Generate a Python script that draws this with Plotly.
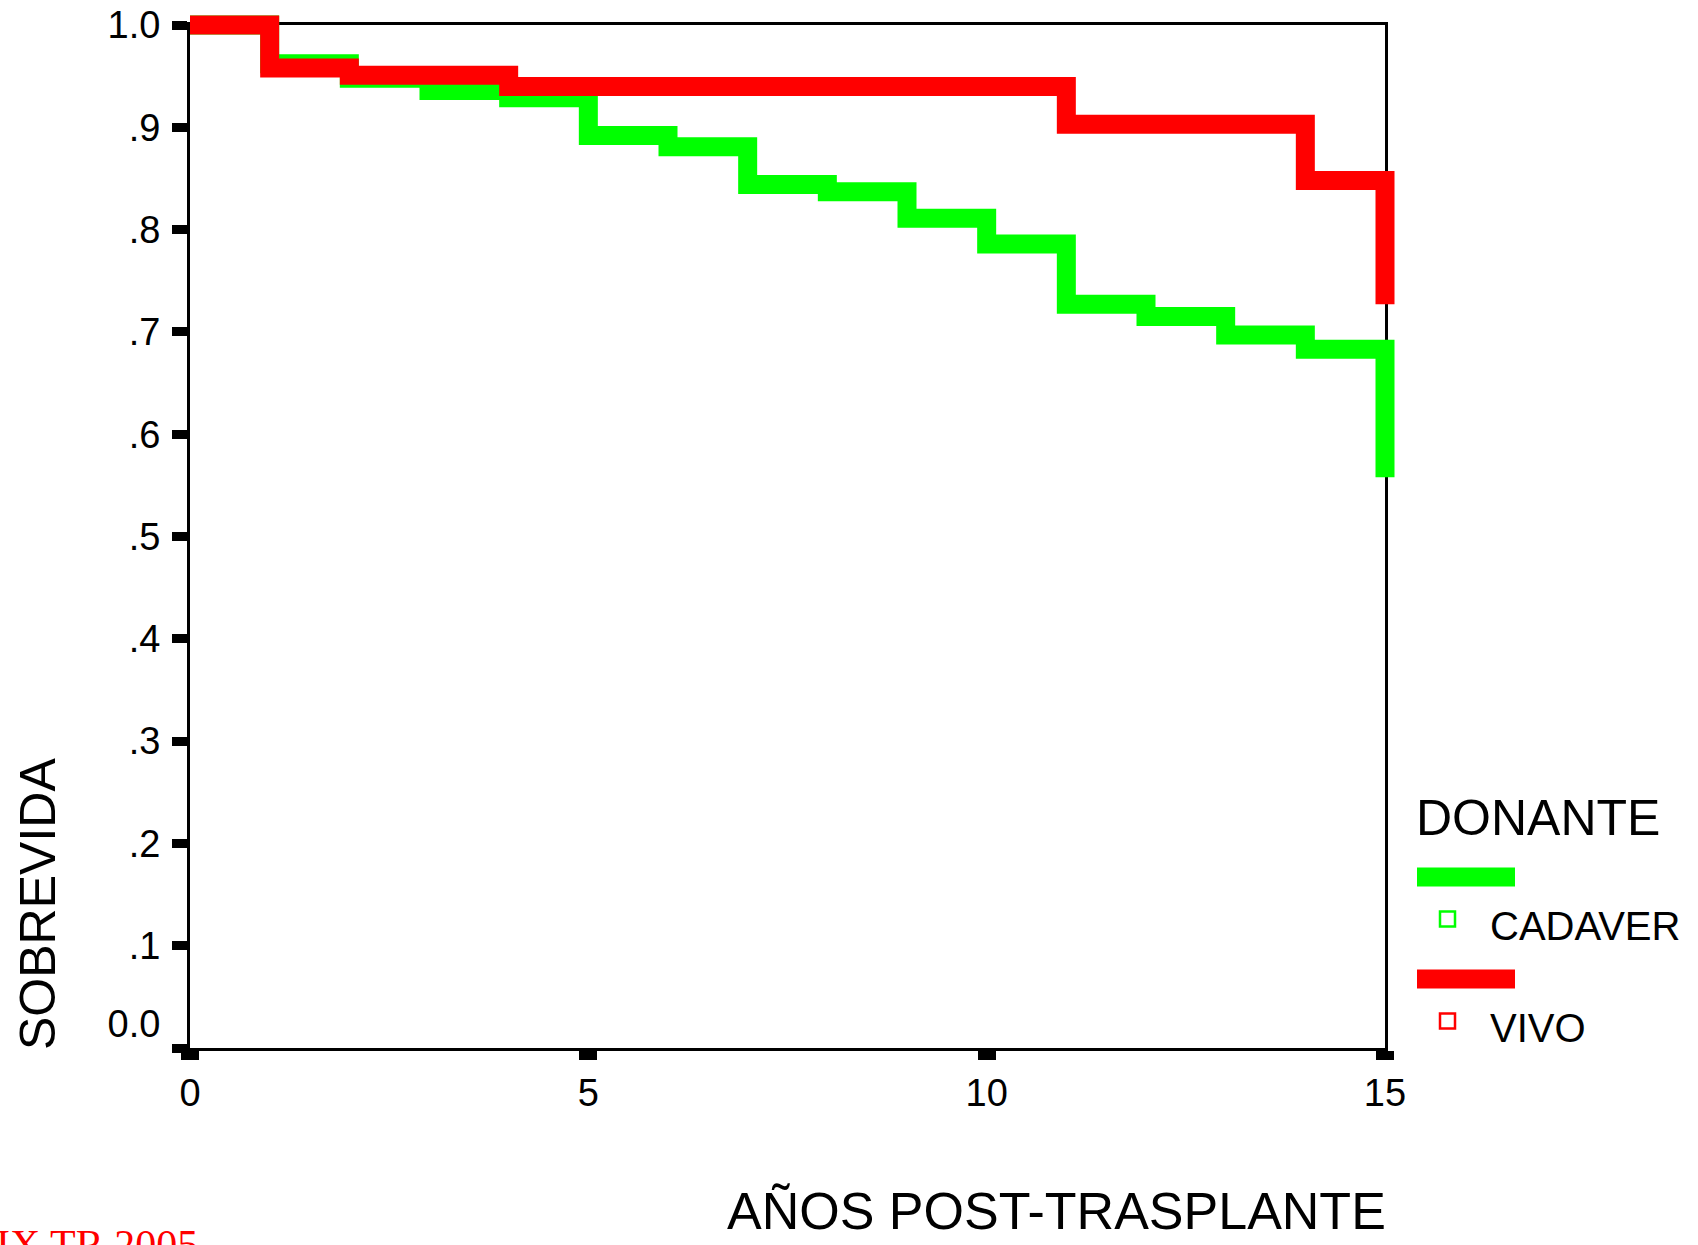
import plotly.graph_objects as go

# ---------------- data ----------------
series_names = ["CADAVER", "VIVO"]
years_cadaver = [0, 1, 2, 3, 4, 5, 6, 7, 8, 9, 10, 11, 12, 13, 14, 15]
surv_cadaver = [1.0, 0.962, 0.948, 0.936, 0.929, 0.892, 0.881, 0.844, 0.837,
                0.811, 0.786, 0.727, 0.715, 0.697, 0.683, 0.558]
years_vivo = [0, 1, 2, 4, 11, 14, 15]
surv_vivo = [1.0, 0.958, 0.951, 0.940, 0.903, 0.848, 0.727]

x_tick_vals = [0, 5, 10, 15]
x_tick_text = ["0", "5", "10", "15"]
y_tick_vals = [0.0, 0.1, 0.2, 0.3, 0.4, 0.5, 0.6, 0.7, 0.8, 0.9, 1.0]
y_tick_text = ["0.0<br> ", ".1", ".2", ".3", ".4", ".5", ".6", ".7", ".8", ".9", "1.0"]

legend_title = "DONANTE"
x_title = "AÑOS POST-TRASPLANTE"
y_title = "SOBREVIDA"
footer = "IX TR 2005"

# ---------------- geometry ----------------
W, H = 1698, 1245
GREEN, RED = "#00FF00", "#FF0000"
FONT = "Arial, Liberation Sans, sans-serif"

def px(x):
    return x / W

def py(y):
    return 1 - y / H

FX0, FX1 = 190, 1385   # frame left/right (x = 0 / 15)
FY1, FY0 = 25, 1048    # frame top/bottom (y = 1 / 0)
PAD = 24
XMIN, XMAX = x_tick_vals[0], x_tick_vals[-1]
YMIN, YMAX = y_tick_vals[0], y_tick_vals[-1]
sx = (FX1 - FX0) / (XMAX - XMIN)
sy = (FY0 - FY1) / (YMAX - YMIN)

fig = go.Figure()

# invisible trace to materialise the frame axes
fig.add_trace(go.Scatter(x=[XMIN, XMAX], y=[YMIN, YMAX], mode="markers",
                         marker=dict(opacity=0), hoverinfo="skip",
                         showlegend=False, xaxis="x", yaxis="y"))

fig.add_trace(go.Scatter(x=years_cadaver, y=surv_cadaver, mode="lines",
                         line=dict(color=GREEN, width=19, shape="hv"),
                         name=series_names[0], showlegend=False,
                         xaxis="x2", yaxis="y2"))
fig.add_trace(go.Scatter(x=years_vivo, y=surv_vivo, mode="lines",
                         line=dict(color=RED, width=19, shape="hv"),
                         name=series_names[1], showlegend=False,
                         xaxis="x2", yaxis="y2"))

axis_common = dict(showline=True, linecolor="black", linewidth=3, mirror=True,
                   showgrid=False, zeroline=False, ticks="outside", automargin=False,
                   tickcolor="black", tickfont=dict(family=FONT, size=38, color="black"))

fig.update_layout(
    template="none",
    width=W, height=H,
    margin=dict(l=0, r=0, t=0, b=0, pad=0, autoexpand=False),
    paper_bgcolor="white", plot_bgcolor="rgba(0,0,0,0)",
    hovermode=False, showlegend=False,
    font=dict(family=FONT, color="black"),
    xaxis=dict(domain=[px(FX0), px(FX1)], range=[XMIN, XMAX],
               tickvals=x_tick_vals, ticktext=x_tick_text,
               ticklen=9, tickwidth=18, ticklabelstandoff=0,
               anchor="y", **axis_common),
    yaxis=dict(domain=[py(FY0), py(FY1)], range=[YMIN, YMAX],
               tickvals=y_tick_vals, ticktext=y_tick_text,
               ticklen=15, tickwidth=9, ticklabelstandoff=4,
               anchor="x", **axis_common),
    xaxis2=dict(domain=[px(FX0 - PAD), px(FX1 + PAD)],
                range=[XMIN - PAD / sx, XMAX + PAD / sx],
                visible=False, anchor="y2", automargin=False),
    yaxis2=dict(domain=[py(FY0 + PAD), py(FY1 - PAD)],
                range=[YMIN - PAD / sy, YMAX + PAD / sy],
                visible=False, anchor="x2", automargin=False),
)

annotations = [
    dict(text=y_title, x=px(38), y=py(904), xref="paper", yref="paper",
         textangle=-90, showarrow=False, xanchor="center", yanchor="middle",
         font=dict(family=FONT, size=50, color="black")),
    dict(text=x_title, x=px(1388), y=py(1211), xref="paper", yref="paper",
         showarrow=False, xanchor="right", yanchor="middle",
         font=dict(family=FONT, size=52, color="black")),
    dict(text=footer, x=px(-6), y=py(1220), xref="paper", yref="paper",
         showarrow=False, xanchor="left", yanchor="top",
         font=dict(family="Liberation Serif, Times New Roman, serif", size=42, color=RED)),
    dict(text=legend_title, x=px(1414), y=py(818), xref="paper", yref="paper",
         showarrow=False, xanchor="left", yanchor="middle",
         font=dict(family=FONT, size=50, color="black")),
    dict(text=series_names[0], x=px(1488), y=py(926), xref="paper", yref="paper",
         showarrow=False, xanchor="left", yanchor="middle",
         font=dict(family=FONT, size=40, color="black")),
    dict(text=series_names[1], x=px(1488), y=py(1028), xref="paper", yref="paper",
         showarrow=False, xanchor="left", yanchor="middle",
         font=dict(family=FONT, size=40, color="black")),
]
fig.update_layout(annotations=annotations)

shapes = []
for color, bar_y, sq_y in [(GREEN, 877, 919), (RED, 979, 1021)]:
    shapes.append(dict(type="rect", xref="paper", yref="paper",
                       x0=px(1417), x1=px(1515), y0=py(bar_y - 9.5), y1=py(bar_y + 9.5),
                       fillcolor=color, line=dict(width=0)))
    shapes.append(dict(type="rect", xref="paper", yref="paper",
                       x0=px(1440), x1=px(1455), y0=py(sq_y - 7.5), y1=py(sq_y + 7.5),
                       fillcolor="white", line=dict(color=color, width=2.5)))
fig.update_layout(shapes=shapes)

fig.write_html("out.html",
               config={"displayModeBar": False, "staticPlot": True},
               post_script="document.body.style.margin='0';"
                           "document.body.style.overflow='hidden';")
